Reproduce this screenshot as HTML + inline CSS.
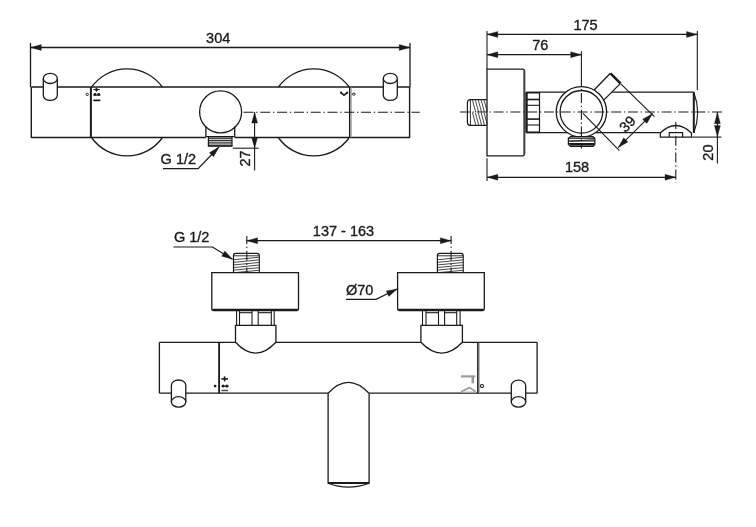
<!DOCTYPE html>
<html><head><meta charset="utf-8"><style>
html,body{margin:0;padding:0;background:#fff;}
svg{display:block;will-change:transform;font-family:"Liberation Sans",sans-serif;}
</style></head><body>
<svg width="756" height="527" viewBox="0 0 756 527">
<rect width="756" height="527" fill="#fff"/>
<line x1="30.50" y1="43.00" x2="30.50" y2="87.00" stroke="#1a1a1a" stroke-width="1.3" />
<line x1="410.00" y1="43.00" x2="410.00" y2="87.00" stroke="#1a1a1a" stroke-width="1.3" />
<line x1="30.50" y1="47.50" x2="410.00" y2="47.50" stroke="#1a1a1a" stroke-width="1.3" />
<path d="M30.50,47.50 L41.30,44.50 L41.30,50.50 Z" fill="#1a1a1a" stroke="#1a1a1a" stroke-width="0.3"/>
<path d="M410.00,47.50 L399.20,50.50 L399.20,44.50 Z" fill="#1a1a1a" stroke="#1a1a1a" stroke-width="0.3"/>
<text x="218.2" y="42.8" font-size="14.5" text-anchor="middle" fill="#1a1a1a" stroke="#1a1a1a" stroke-width="0.35">304</text>
<path d="M91.69,87 A43.5,43.5 0 0 1 162.31,87" fill="none" stroke="#1a1a1a" stroke-width="1.3" />
<path d="M91.83,138 A43.5,43.5 0 0 0 162.17,138" fill="none" stroke="#1a1a1a" stroke-width="1.3" />
<path d="M278.49,87 A43.5,43.5 0 0 1 349.11,87" fill="none" stroke="#1a1a1a" stroke-width="1.3" />
<path d="M278.63,138 A43.5,43.5 0 0 0 348.97,138" fill="none" stroke="#1a1a1a" stroke-width="1.3" />
<line x1="31.30" y1="87.00" x2="409.60" y2="87.00" stroke="#1a1a1a" stroke-width="1.5" />
<line x1="31.30" y1="137.60" x2="205.90" y2="137.60" stroke="#1a1a1a" stroke-width="1.5" />
<line x1="234.70" y1="137.60" x2="409.60" y2="137.60" stroke="#1a1a1a" stroke-width="1.5" />
<line x1="31.30" y1="87.00" x2="31.30" y2="138.00" stroke="#1a1a1a" stroke-width="1.4" />
<line x1="409.60" y1="87.00" x2="409.60" y2="138.00" stroke="#1a1a1a" stroke-width="1.4" />
<line x1="90.90" y1="87.00" x2="90.90" y2="138.00" stroke="#1a1a1a" stroke-width="2" />
<line x1="349.70" y1="87.00" x2="349.70" y2="138.00" stroke="#1a1a1a" stroke-width="1.5" />
<path d="M43.3,78.39999999999999 L43.3,95.30000000000001 A7,5.1 0 0 0 57.3,95.30000000000001 L57.3,78.39999999999999" fill="#fff" stroke="#1a1a1a" stroke-width="1.3"/>
<ellipse cx="50.3" cy="78.39999999999999" rx="7" ry="5.1" fill="#fff" stroke="#1a1a1a" stroke-width="1.3"/>
<path d="M383.3,78.39999999999999 L383.3,95.30000000000001 A7,5.1 0 0 0 397.3,95.30000000000001 L397.3,78.39999999999999" fill="#fff" stroke="#1a1a1a" stroke-width="1.3"/>
<ellipse cx="390.3" cy="78.39999999999999" rx="7" ry="5.1" fill="#fff" stroke="#1a1a1a" stroke-width="1.3"/>
<circle cx="87.2" cy="94.4" r="1.2" fill="none" stroke="#1a1a1a" stroke-width="0.9"/>
<line x1="93.30" y1="89.50" x2="99.80" y2="89.50" stroke="#1a1a1a" stroke-width="1.0" />
<circle cx="96.5" cy="89.6" r="1.5" fill="#1a1a1a"/>
<line x1="96.50" y1="89.60" x2="96.50" y2="91.60" stroke="#1a1a1a" stroke-width="0.9" />
<circle cx="95.0" cy="94.3" r="1.4" fill="#1a1a1a"/>
<circle cx="98.7" cy="94.3" r="1.4" fill="#1a1a1a"/>
<line x1="93.30" y1="95.20" x2="100.40" y2="95.20" stroke="#1a1a1a" stroke-width="1.0" />
<line x1="94.00" y1="100.30" x2="99.60" y2="100.30" stroke="#1a1a1a" stroke-width="1.7" stroke-linecap="round"/>
<path d="M340.8,92.6 L344,95.2 L347.3,92.6" fill="none" stroke="#1a1a1a" stroke-width="1.5" />
<circle cx="341" cy="92.6" r="1.1" fill="#1a1a1a"/>
<circle cx="347.2" cy="92.6" r="1.1" fill="#1a1a1a"/>
<ellipse cx="353.8" cy="94.2" rx="1.6" ry="1.0" fill="none" stroke="#1a1a1a" stroke-width="0.9"/>
<line x1="351.10" y1="87.50" x2="351.10" y2="137.50" stroke="#999" stroke-width="1.2" />
<circle cx="220.6" cy="111.9" r="21" fill="#fff" stroke="#1a1a1a" stroke-width="1.3"/>
<path d="M205.9,126.5 L205.9,136.6 L234.7,136.6 L234.7,126.5" fill="none" stroke="#1a1a1a" stroke-width="1.3" />
<rect x="208.4" y="137" width="23.6" height="9.2" fill="#fff" stroke="#1a1a1a" stroke-width="1.2"/>
<line x1="208.40" y1="138.70" x2="232.00" y2="138.70" stroke="#1a1a1a" stroke-width="0.95" />
<line x1="208.40" y1="140.45" x2="232.00" y2="140.45" stroke="#1a1a1a" stroke-width="0.95" />
<line x1="208.40" y1="142.20" x2="232.00" y2="142.20" stroke="#1a1a1a" stroke-width="0.95" />
<line x1="208.40" y1="143.95" x2="232.00" y2="143.95" stroke="#1a1a1a" stroke-width="0.95" />
<line x1="208.40" y1="145.60" x2="232.00" y2="145.60" stroke="#1a1a1a" stroke-width="0.95" />
<line x1="243.50" y1="112.30" x2="419.80" y2="112.30" stroke="#1a1a1a" stroke-width="1.1" stroke-dasharray="10 2.7 1.4 2.7" stroke-dashoffset="0"/>
<line x1="232.80" y1="148.20" x2="258.70" y2="148.20" stroke="#1a1a1a" stroke-width="1.1" />
<line x1="254.60" y1="112.30" x2="254.60" y2="170.50" stroke="#1a1a1a" stroke-width="1.1" />
<path d="M254.60,112.30 L257.60,123.10 L251.60,123.10 Z" fill="#1a1a1a" stroke="#1a1a1a" stroke-width="0.3"/>
<path d="M254.60,148.20 L251.60,137.40 L257.60,137.40 Z" fill="#1a1a1a" stroke="#1a1a1a" stroke-width="0.3"/>
<text x="250" y="158.5" font-size="14.5" text-anchor="middle" fill="#1a1a1a" stroke="#1a1a1a" stroke-width="0.35" transform="rotate(-90 250 158.5)">27</text>
<text x="160.6" y="163.9" font-size="14.5" text-anchor="start" fill="#1a1a1a" stroke="#1a1a1a" stroke-width="0.35">G 1/2</text>
<path d="M163,168.7 L198.1,168.7 L219,147" fill="none" stroke="#1a1a1a" stroke-width="1.2" />
<path d="M219.00,147.00 L213.63,156.84 L209.32,152.66 Z" fill="#1a1a1a" stroke="#1a1a1a" stroke-width="0.3"/>
<line x1="487.00" y1="31.00" x2="487.00" y2="69.20" stroke="#1a1a1a" stroke-width="1.1" />
<line x1="697.30" y1="31.00" x2="697.30" y2="90.00" stroke="#1a1a1a" stroke-width="1.1" />
<line x1="487.00" y1="34.40" x2="697.30" y2="34.40" stroke="#1a1a1a" stroke-width="1.2" />
<path d="M487.00,34.40 L497.80,31.40 L497.80,37.40 Z" fill="#1a1a1a" stroke="#1a1a1a" stroke-width="0.3"/>
<path d="M697.30,34.40 L686.50,37.40 L686.50,31.40 Z" fill="#1a1a1a" stroke="#1a1a1a" stroke-width="0.3"/>
<text x="585.5" y="29.9" font-size="14.5" text-anchor="middle" fill="#1a1a1a" stroke="#1a1a1a" stroke-width="0.35">175</text>
<line x1="487.00" y1="54.70" x2="581.50" y2="54.70" stroke="#1a1a1a" stroke-width="1.2" />
<path d="M487.00,54.70 L497.80,51.70 L497.80,57.70 Z" fill="#1a1a1a" stroke="#1a1a1a" stroke-width="0.3"/>
<path d="M581.50,54.70 L570.70,57.70 L570.70,51.70 Z" fill="#1a1a1a" stroke="#1a1a1a" stroke-width="0.3"/>
<text x="540.2" y="49.9" font-size="14.5" text-anchor="middle" fill="#1a1a1a" stroke="#1a1a1a" stroke-width="0.35">76</text>
<path d="M487,69.2 L522.5,69.2 Q524.5,69.2 524.5,71.5 L524.5,153.5 Q524.5,155.8 522.5,155.8 L487,155.8 Z" fill="none" stroke="#1a1a1a" stroke-width="1.3" />
<line x1="524.30" y1="71.00" x2="524.30" y2="154.00" stroke="#444" stroke-width="1.9" />
<path d="M487,99.6 L470,99.6 Q467.4,100 467.4,103 L467.4,122 Q467.4,125.2 470,125.4 L487,125.4" fill="none" stroke="#1a1a1a" stroke-width="1.2" />
<line x1="470.40" y1="100.00" x2="470.40" y2="125.00" stroke="#1a1a1a" stroke-width="0.9" />
<line x1="472.50" y1="100.20" x2="475.70" y2="112.00" stroke="#1a1a1a" stroke-width="0.8" />
<line x1="472.50" y1="112.60" x2="475.70" y2="124.80" stroke="#1a1a1a" stroke-width="0.8" />
<line x1="475.40" y1="100.20" x2="478.60" y2="112.00" stroke="#1a1a1a" stroke-width="0.8" />
<line x1="475.40" y1="112.60" x2="478.60" y2="124.80" stroke="#1a1a1a" stroke-width="0.8" />
<line x1="478.30" y1="100.20" x2="481.50" y2="112.00" stroke="#1a1a1a" stroke-width="0.8" />
<line x1="478.30" y1="112.60" x2="481.50" y2="124.80" stroke="#1a1a1a" stroke-width="0.8" />
<line x1="481.20" y1="100.20" x2="484.40" y2="112.00" stroke="#1a1a1a" stroke-width="0.8" />
<line x1="481.20" y1="112.60" x2="484.40" y2="124.80" stroke="#1a1a1a" stroke-width="0.8" />
<line x1="484.10" y1="100.20" x2="487.30" y2="112.00" stroke="#1a1a1a" stroke-width="0.8" />
<line x1="484.10" y1="112.60" x2="487.30" y2="124.80" stroke="#1a1a1a" stroke-width="0.8" />
<rect x="526.3" y="92.4" width="13.2" height="40.1" fill="#fff" stroke="#1a1a1a" stroke-width="1.2"/>
<line x1="526.60" y1="92.60" x2="526.60" y2="132.40" stroke="#1a1a1a" stroke-width="2.2" />
<line x1="526.30" y1="92.60" x2="539.50" y2="92.60" stroke="#1a1a1a" stroke-width="1.8" />
<line x1="526.30" y1="132.40" x2="539.50" y2="132.40" stroke="#1a1a1a" stroke-width="1.8" />
<line x1="526.30" y1="99.50" x2="539.50" y2="99.50" stroke="#1a1a1a" stroke-width="1.6" />
<line x1="526.30" y1="105.30" x2="539.50" y2="105.30" stroke="#1a1a1a" stroke-width="1.1" />
<line x1="526.30" y1="119.10" x2="539.50" y2="119.10" stroke="#1a1a1a" stroke-width="1.6" />
<line x1="526.30" y1="125.00" x2="539.50" y2="125.00" stroke="#1a1a1a" stroke-width="1.1" />
<line x1="539.50" y1="92.20" x2="693.80" y2="92.20" stroke="#1a1a1a" stroke-width="1.3" />
<line x1="539.50" y1="132.70" x2="660.30" y2="132.70" stroke="#1a1a1a" stroke-width="1.3" />
<line x1="693.80" y1="92.20" x2="693.80" y2="132.80" stroke="#1a1a1a" stroke-width="2" />
<path d="M693.8,92.2 Q701.5,112.4 693.8,132.8" fill="none" stroke="#1a1a1a" stroke-width="1.2" />
<path d="M592.5,92 L610.4,73.3 L620.5,83.4 L602.5,101.5 Z" fill="#fff" stroke="none"/>
<path d="M594.1,90 L610.4,73.3 M620.5,83.4 L604,99.9" fill="none" stroke="#1a1a1a" stroke-width="1.3" />
<line x1="610.40" y1="73.30" x2="620.50" y2="83.40" stroke="#1a1a1a" stroke-width="2.6" />
<circle cx="581.4" cy="111.8" r="25.2" fill="#fff" stroke="#1a1a1a" stroke-width="1.3"/>
<circle cx="581.4" cy="111.8" r="21.3" fill="#fff" stroke="#1a1a1a" stroke-width="1.3"/>
<path d="M570.5,136.6 L593,136.6 L594.8,138.3 L594.8,144.5 L593,146.3 L570.5,146.3 L568.4,144.5 L568.4,138.3 Z" fill="#fff" stroke="#1a1a1a" stroke-width="1.3" />
<line x1="569.00" y1="138.20" x2="594.50" y2="138.20" stroke="#1a1a1a" stroke-width="1.2" />
<line x1="569.00" y1="140.90" x2="594.50" y2="140.90" stroke="#1a1a1a" stroke-width="1.2" />
<line x1="569.00" y1="143.60" x2="594.50" y2="143.60" stroke="#1a1a1a" stroke-width="1.2" />
<line x1="570.00" y1="141.50" x2="594.00" y2="139.50" stroke="#1a1a1a" stroke-width="0.7" />
<line x1="570.00" y1="144.80" x2="594.00" y2="144.80" stroke="#1a1a1a" stroke-width="1.6" />
<line x1="460.00" y1="112.00" x2="724.00" y2="112.00" stroke="#1a1a1a" stroke-width="1.1" stroke-dasharray="10 2.7 1.4 2.7" stroke-dashoffset="0"/>
<line x1="581.40" y1="51.30" x2="581.40" y2="87.00" stroke="#1a1a1a" stroke-width="1.1" />
<line x1="581.40" y1="87.00" x2="581.40" y2="148.50" stroke="#1a1a1a" stroke-width="1.1" stroke-dasharray="10 2.7 1.4 2.7" stroke-dashoffset="-6"/>
<line x1="583.00" y1="113.40" x2="619.40" y2="150.60" stroke="#1a1a1a" stroke-width="1.1" />
<line x1="620.80" y1="83.90" x2="654.40" y2="116.60" stroke="#1a1a1a" stroke-width="1.1" />
<line x1="618.20" y1="147.60" x2="652.40" y2="113.70" stroke="#1a1a1a" stroke-width="1.1" />
<path d="M618.20,147.60 L623.72,137.84 L627.96,142.08 Z" fill="#1a1a1a" stroke="#1a1a1a" stroke-width="0.3"/>
<path d="M652.40,113.70 L646.88,123.46 L642.64,119.22 Z" fill="#1a1a1a" stroke="#1a1a1a" stroke-width="0.3"/>
<text x="631" y="127.5" font-size="14.5" text-anchor="middle" fill="#1a1a1a" stroke="#1a1a1a" stroke-width="0.35" transform="rotate(-45 631 127.5)">39</text>
<path d="M660.3,137.1 L660.3,133 Q675.8,118 691.5,133 L691.5,137.1 Z" fill="none" stroke="#1a1a1a" stroke-width="1.2" />
<path d="M669.3,137.1 L669.3,132.6 L682.6,132.6 L682.6,137.1" fill="none" stroke="#1a1a1a" stroke-width="1.2" />
<line x1="675.80" y1="122.00" x2="675.80" y2="182.40" stroke="#1a1a1a" stroke-width="1.1" stroke-dasharray="10 2.7 1.4 2.7" stroke-dashoffset="3"/>
<line x1="487.00" y1="158.30" x2="487.00" y2="181.00" stroke="#1a1a1a" stroke-width="1.1" />
<line x1="487.00" y1="177.30" x2="675.80" y2="177.30" stroke="#1a1a1a" stroke-width="1.2" />
<path d="M487.00,177.30 L497.80,174.30 L497.80,180.30 Z" fill="#1a1a1a" stroke="#1a1a1a" stroke-width="0.3"/>
<path d="M675.80,177.30 L665.00,180.30 L665.00,174.30 Z" fill="#1a1a1a" stroke="#1a1a1a" stroke-width="0.3"/>
<text x="577" y="171.7" font-size="14.5" text-anchor="middle" fill="#1a1a1a" stroke="#1a1a1a" stroke-width="0.35">158</text>
<line x1="692.20" y1="137.10" x2="721.40" y2="137.10" stroke="#1a1a1a" stroke-width="1.1" />
<line x1="717.40" y1="112.00" x2="717.40" y2="163.40" stroke="#1a1a1a" stroke-width="1.1" />
<path d="M717.40,112.20 L720.40,123.70 L714.40,123.70 Z" fill="#1a1a1a" stroke="#1a1a1a" stroke-width="0.3"/>
<path d="M717.40,137.10 L714.40,125.60 L720.40,125.60 Z" fill="#1a1a1a" stroke="#1a1a1a" stroke-width="0.3"/>
<text x="712.6" y="152.6" font-size="14.5" text-anchor="middle" fill="#1a1a1a" stroke="#1a1a1a" stroke-width="0.35" transform="rotate(-90 712.6 152.6)">20</text>
<line x1="246.80" y1="240.70" x2="451.10" y2="240.70" stroke="#1a1a1a" stroke-width="1.2" />
<path d="M246.80,240.70 L257.60,237.70 L257.60,243.70 Z" fill="#1a1a1a" stroke="#1a1a1a" stroke-width="0.3"/>
<path d="M451.10,240.70 L440.30,243.70 L440.30,237.70 Z" fill="#1a1a1a" stroke="#1a1a1a" stroke-width="0.3"/>
<text x="343.5" y="235.8" font-size="14.5" text-anchor="middle" fill="#1a1a1a" stroke="#1a1a1a" stroke-width="0.35">137 - 163</text>
<path d="M233.5,272.3 L233.5,255.5 Q233.5,253.3 235.7,253.3 L257.1,253.3 Q259.3,253.3 259.3,255.5 L259.3,272.3" fill="none" stroke="#1a1a1a" stroke-width="1.2" />
<line x1="233.50" y1="255.80" x2="259.30" y2="255.80" stroke="#1a1a1a" stroke-width="0.9" />
<line x1="234.00" y1="259.70" x2="258.80" y2="257.30" stroke="#1a1a1a" stroke-width="0.8" />
<line x1="234.00" y1="262.30" x2="258.80" y2="259.90" stroke="#1a1a1a" stroke-width="0.8" />
<line x1="234.00" y1="264.90" x2="258.80" y2="262.50" stroke="#1a1a1a" stroke-width="0.8" />
<line x1="234.00" y1="267.50" x2="258.80" y2="265.10" stroke="#1a1a1a" stroke-width="0.8" />
<line x1="234.00" y1="270.10" x2="258.80" y2="267.70" stroke="#1a1a1a" stroke-width="0.8" />
<line x1="234.00" y1="272.70" x2="258.80" y2="270.30" stroke="#1a1a1a" stroke-width="0.8" />
<line x1="246.80" y1="236.00" x2="246.80" y2="272.00" stroke="#1a1a1a" stroke-width="1.1" stroke-dasharray="10 2.7 1.4 2.7" stroke-dashoffset="2"/>
<path d="M211.8,272.6 L298.5,272.6 L298.5,308.6 Q298.5,310.6 296.5,310.6 L213.8,310.6 Q211.8,310.6 211.8,308.6 Z" fill="none" stroke="#1a1a1a" stroke-width="1.3" />
<line x1="212.80" y1="309.60" x2="297.50" y2="309.60" stroke="#1a1a1a" stroke-width="1.6" />
<path d="M437.4,272.3 L437.4,255.5 Q437.4,253.3 439.59999999999997,253.3 L461.0,253.3 Q463.2,253.3 463.2,255.5 L463.2,272.3" fill="none" stroke="#1a1a1a" stroke-width="1.2" />
<line x1="437.40" y1="255.80" x2="463.20" y2="255.80" stroke="#1a1a1a" stroke-width="0.9" />
<line x1="437.90" y1="259.70" x2="462.70" y2="257.30" stroke="#1a1a1a" stroke-width="0.8" />
<line x1="437.90" y1="262.30" x2="462.70" y2="259.90" stroke="#1a1a1a" stroke-width="0.8" />
<line x1="437.90" y1="264.90" x2="462.70" y2="262.50" stroke="#1a1a1a" stroke-width="0.8" />
<line x1="437.90" y1="267.50" x2="462.70" y2="265.10" stroke="#1a1a1a" stroke-width="0.8" />
<line x1="437.90" y1="270.10" x2="462.70" y2="267.70" stroke="#1a1a1a" stroke-width="0.8" />
<line x1="437.90" y1="272.70" x2="462.70" y2="270.30" stroke="#1a1a1a" stroke-width="0.8" />
<line x1="451.10" y1="236.00" x2="451.10" y2="272.00" stroke="#1a1a1a" stroke-width="1.1" stroke-dasharray="10 2.7 1.4 2.7" stroke-dashoffset="2"/>
<path d="M397.6,272.6 L484.3,272.6 L484.3,308.6 Q484.3,310.6 482.3,310.6 L399.6,310.6 Q397.6,310.6 397.6,308.6 Z" fill="none" stroke="#1a1a1a" stroke-width="1.3" />
<line x1="398.60" y1="309.60" x2="483.30" y2="309.60" stroke="#1a1a1a" stroke-width="1.6" />
<line x1="236.60" y1="310.50" x2="236.60" y2="325.30" stroke="#1a1a1a" stroke-width="1.1" />
<line x1="239.50" y1="310.50" x2="239.50" y2="325.30" stroke="#1a1a1a" stroke-width="1.1" />
<line x1="252.00" y1="310.50" x2="252.00" y2="325.30" stroke="#1a1a1a" stroke-width="1.1" />
<line x1="258.20" y1="310.50" x2="258.20" y2="325.30" stroke="#1a1a1a" stroke-width="1.1" />
<line x1="271.30" y1="310.50" x2="271.30" y2="325.30" stroke="#1a1a1a" stroke-width="1.1" />
<line x1="274.20" y1="310.50" x2="274.20" y2="325.30" stroke="#1a1a1a" stroke-width="1.1" />
<line x1="239.50" y1="312.70" x2="252.00" y2="312.70" stroke="#1a1a1a" stroke-width="1.1" />
<line x1="258.20" y1="312.70" x2="271.30" y2="312.70" stroke="#1a1a1a" stroke-width="1.1" />
<line x1="422.50" y1="310.50" x2="422.50" y2="325.30" stroke="#1a1a1a" stroke-width="1.1" />
<line x1="426.00" y1="310.50" x2="426.00" y2="325.30" stroke="#1a1a1a" stroke-width="1.1" />
<line x1="438.50" y1="310.50" x2="438.50" y2="325.30" stroke="#1a1a1a" stroke-width="1.1" />
<line x1="444.60" y1="310.50" x2="444.60" y2="325.30" stroke="#1a1a1a" stroke-width="1.1" />
<line x1="456.70" y1="310.50" x2="456.70" y2="325.30" stroke="#1a1a1a" stroke-width="1.1" />
<line x1="460.10" y1="310.50" x2="460.10" y2="325.30" stroke="#1a1a1a" stroke-width="1.1" />
<line x1="426.00" y1="312.70" x2="438.50" y2="312.70" stroke="#1a1a1a" stroke-width="1.1" />
<line x1="444.60" y1="312.70" x2="456.70" y2="312.70" stroke="#1a1a1a" stroke-width="1.1" />
<path d="M235.5,325.3 L275.9,325.3 L275.9,342.3 Q255.7,364 235.5,342.3 Z" fill="#fff" stroke="#1a1a1a" stroke-width="1.3" />
<path d="M420.9,325.3 L462.4,325.3 L462.4,342.3 Q441.65,364 420.9,342.3 Z" fill="#fff" stroke="#1a1a1a" stroke-width="1.3" />
<line x1="159.40" y1="342.30" x2="235.50" y2="342.30" stroke="#1a1a1a" stroke-width="1.3" />
<line x1="275.90" y1="342.30" x2="420.90" y2="342.30" stroke="#1a1a1a" stroke-width="1.3" />
<line x1="462.40" y1="342.30" x2="537.10" y2="342.30" stroke="#1a1a1a" stroke-width="1.3" />
<line x1="159.40" y1="393.20" x2="328.10" y2="393.20" stroke="#1a1a1a" stroke-width="1.3" />
<line x1="369.10" y1="393.20" x2="537.10" y2="393.20" stroke="#1a1a1a" stroke-width="1.3" />
<line x1="159.40" y1="342.30" x2="159.40" y2="393.20" stroke="#1a1a1a" stroke-width="1.3" />
<line x1="537.10" y1="342.30" x2="537.10" y2="393.20" stroke="#1a1a1a" stroke-width="1.3" />
<line x1="219.10" y1="342.30" x2="219.10" y2="393.20" stroke="#1a1a1a" stroke-width="1.8" />
<line x1="477.90" y1="342.30" x2="477.90" y2="393.20" stroke="#1a1a1a" stroke-width="1.6" />
<circle cx="215.1" cy="386.1" r="1.3" fill="#1a1a1a"/>
<line x1="221.30" y1="378.90" x2="228.00" y2="378.90" stroke="#1a1a1a" stroke-width="1.6" />
<line x1="224.60" y1="376.40" x2="224.60" y2="381.40" stroke="#1a1a1a" stroke-width="1.6" />
<circle cx="223.2" cy="385.9" r="1.5" fill="#1a1a1a"/>
<circle cx="226.9" cy="385.9" r="1.5" fill="#1a1a1a"/>
<line x1="221.50" y1="386.20" x2="228.60" y2="386.20" stroke="#1a1a1a" stroke-width="1.0" />
<line x1="221.40" y1="390.50" x2="228.00" y2="390.50" stroke="#444" stroke-width="1.4" />
<circle cx="481.9" cy="386.1" r="1.6" fill="none" stroke="#1a1a1a" stroke-width="1.1"/>
<line x1="461.00" y1="376.40" x2="475.30" y2="376.40" stroke="#9a9a9a" stroke-width="2.2" />
<line x1="472.80" y1="376.40" x2="472.80" y2="383.30" stroke="#9a9a9a" stroke-width="2.6" />
<path d="M461,391.8 L469.5,387.6 L475.8,391.8" fill="none" stroke="#a0a0a0" stroke-width="1.8"/>
<line x1="462.00" y1="392.20" x2="476.00" y2="392.20" stroke="#b0b0b0" stroke-width="1.2" />
<line x1="479.30" y1="342.80" x2="479.30" y2="393.00" stroke="#aaa" stroke-width="1.1" />
<path d="M328.1,393.3 Q348.3,371.5 369,393.3" fill="none" stroke="#1a1a1a" stroke-width="1.3" />
<path d="M328.1,393.3 L328.1,483.1 L369.1,483.1 L369.1,393.3" fill="none" stroke="#1a1a1a" stroke-width="1.3" />
<line x1="328.10" y1="483.10" x2="369.10" y2="483.10" stroke="#1a1a1a" stroke-width="2" />
<path d="M328.1,483.3 Q348.5,491 369.1,483.3" fill="none" stroke="#1a1a1a" stroke-width="1.2" />
<path d="M171.4,401.9 L171.4,385.3 A7.2,5.3 0 0 1 185.79999999999998,385.3 L185.79999999999998,401.9" fill="#fff" stroke="#1a1a1a" stroke-width="1.3"/>
<ellipse cx="178.6" cy="401.9" rx="7.2" ry="5.3" fill="#fff" stroke="#1a1a1a" stroke-width="1.3"/>
<path d="M511.3,401.9 L511.3,385.5 A7.2,5.3 0 0 1 525.7,385.5 L525.7,401.9" fill="#fff" stroke="#1a1a1a" stroke-width="1.3"/>
<ellipse cx="518.5" cy="401.9" rx="7.2" ry="5.3" fill="#fff" stroke="#1a1a1a" stroke-width="1.3"/>
<text x="173.9" y="242" font-size="14.5" text-anchor="start" fill="#1a1a1a" stroke="#1a1a1a" stroke-width="0.35">G 1/2</text>
<path d="M173.4,247 L212.4,247 L232.5,259.2" fill="none" stroke="#1a1a1a" stroke-width="1.2" />
<path d="M232.50,259.20 L221.71,256.17 L224.82,251.04 Z" fill="#1a1a1a" stroke="#1a1a1a" stroke-width="0.3"/>
<text x="345.9" y="295.2" font-size="14.5" text-anchor="start" fill="#1a1a1a" stroke="#1a1a1a" stroke-width="0.35">Ø70</text>
<path d="M345.9,299.4 L376,299.4 L397.2,289" fill="none" stroke="#1a1a1a" stroke-width="1.2" />
<path d="M397.20,289.00 L388.82,296.45 L386.18,291.06 Z" fill="#1a1a1a" stroke="#1a1a1a" stroke-width="0.3"/>
</svg></body></html>
